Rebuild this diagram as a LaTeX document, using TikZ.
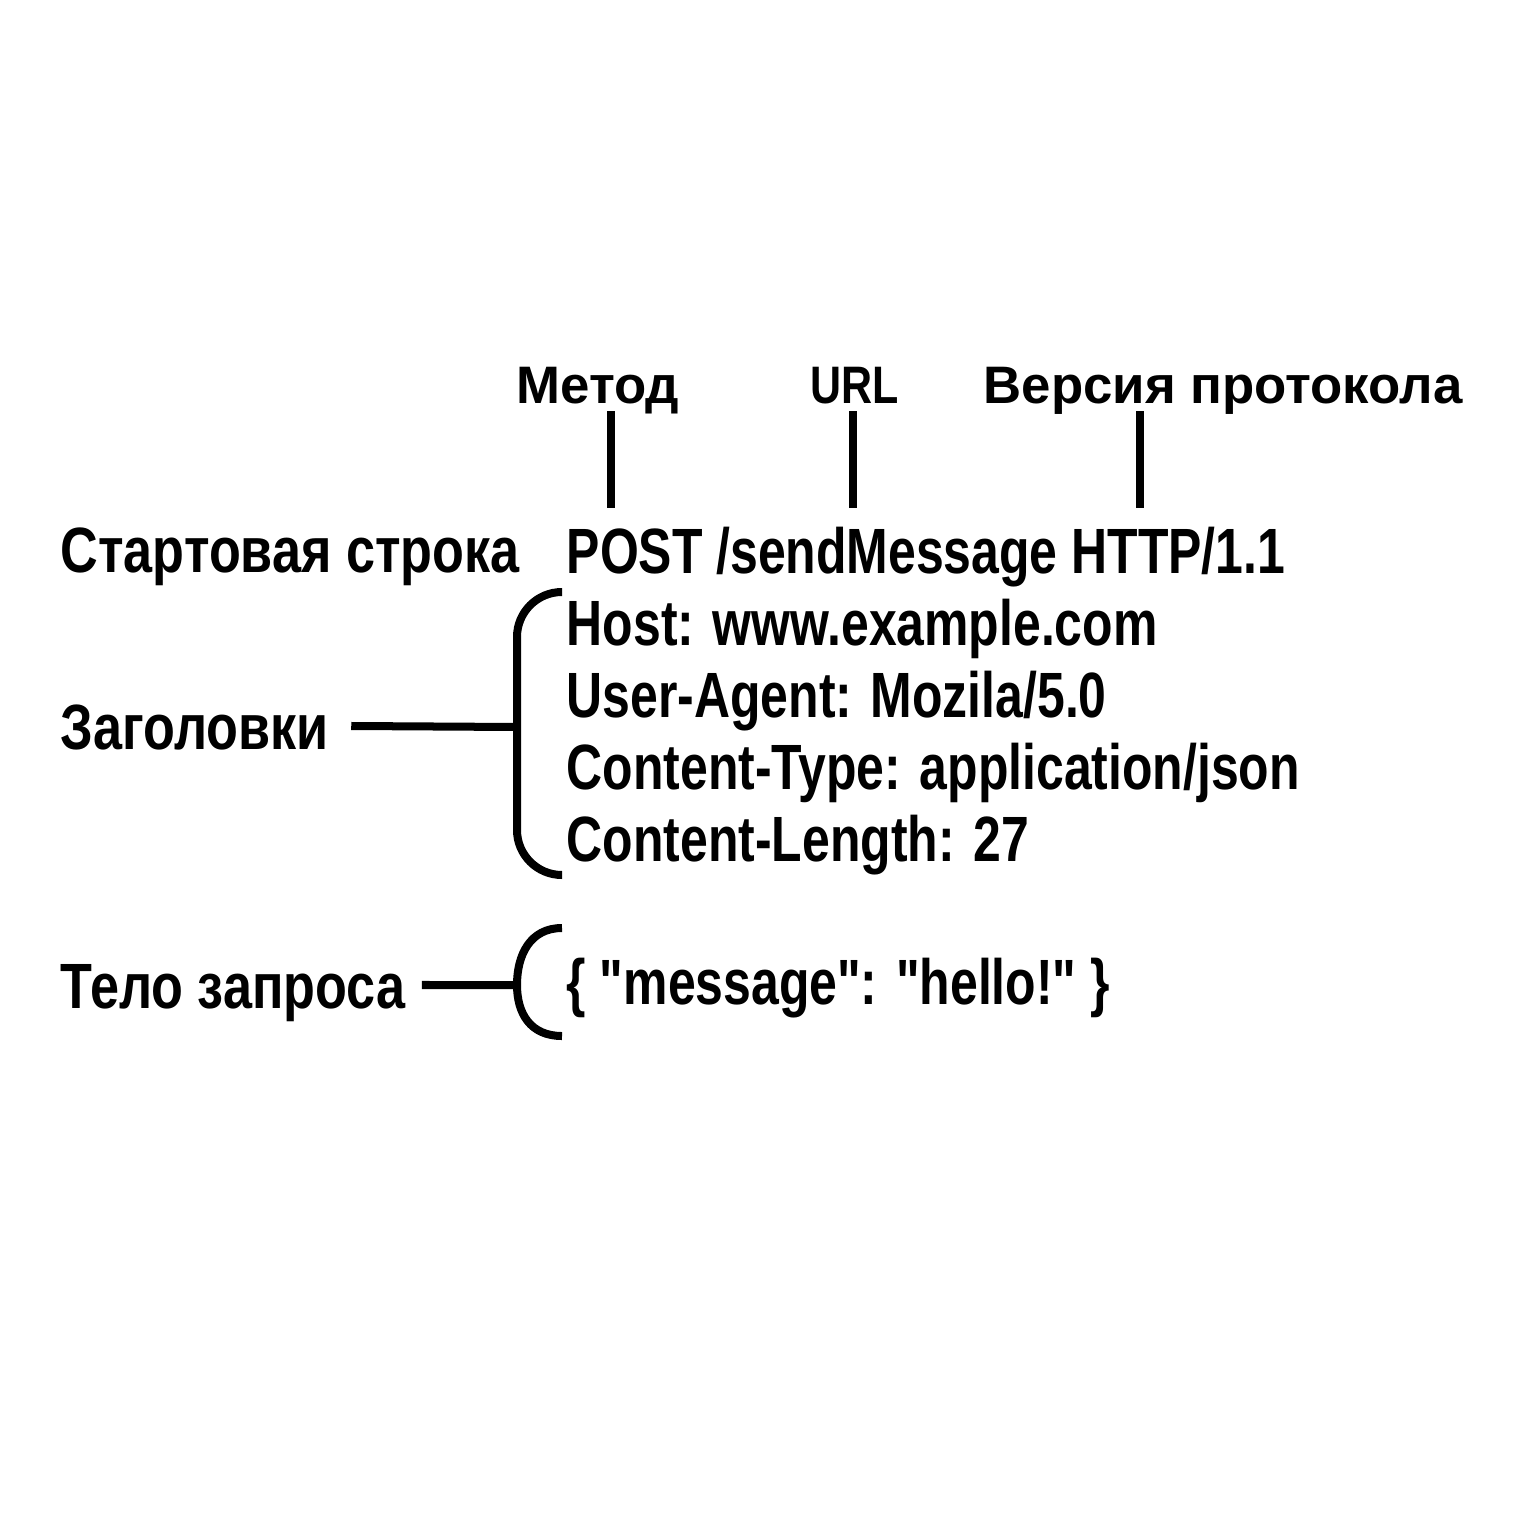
\documentclass[tikz,border=0pt]{standalone}
\usepackage{fontspec}
\newfontfamily\narrowfont{Liberation Sans}[FakeStretch=0.78]
\newfontfamily\labelfont{Liberation Sans}[FakeStretch=0.815]
\newfontfamily\headfont{Liberation Sans}
\tikzset{
  txt/.style={font=\narrowfont\bfseries\fontsize{18.2pt}{20pt}\selectfont, inner sep=0pt, text height=0.46cm, text depth=0pt, anchor=base west},
  side/.style={txt, font=\labelfont\bfseries\fontsize{18.2pt}{20pt}\selectfont},
  head/.style={font=\headfont\bfseries\fontsize{15pt}{17pt}\selectfont, inner sep=0pt, text height=0.38cm, text depth=0pt, anchor=base west},
  wire/.style={line width=0.08cm}
}
\begin{document}
\begin{tikzpicture}[x=0.01cm, y=-0.01cm]
  \useasboundingbox[fill=white] (0,0) rectangle (1536,1536);

  % parts of the start line
  \node[head] (method) at (516,403) {Метод};
  \node[head, font=\labelfont\bfseries\fontsize{15pt}{17pt}\selectfont] (url) at (810,403) {URL};
  \node[head] (version) at (983,403) {Версия протокола};
  \coordinate (mtop) at (611,411);  \coordinate (mbot) at (611,508);
  \coordinate (utop) at (853,411);  \coordinate (ubot) at (853,508);
  \coordinate (vtop) at (1140,411); \coordinate (vbot) at (1140,508);
  \draw[wire] (mtop) -- (mbot);
  \draw[wire] (utop) -- (ubot);
  \draw[wire] (vtop) -- (vbot);

  % request lines
  \node[txt] (start) at (566,573) {POST /sendMessage HTTP/1.1};
  \node[txt] (host) at (566,645) {Host: www.example.com};
  \node[txt] (agent) at (566,717) {User-Agent: Mozila/5.0};
  \node[txt] (ctype) at (566,789) {Content-Type: application/json};
  \node[txt] (clen) at (566,861) {Content-Length: 27};
  \node[txt] (body) at (566,1004) {\{ "message": "hello!" \}};

  % left labels
  \node[side] (startlbl) at (60,572) {Стартовая строка};
  \node[side] (hdlbl) at (60,749) {Заголовки};
  \node[side] (bodylbl) at (60,1008) {Тело запроса};

  % brackets
  \coordinate (hdtop) at (562,592);
  \coordinate (hdbot) at (562,875);
  \coordinate (hdbrace) at (517,727);
  \draw[wire, rounded corners=0.45cm] (hdtop) -| (hdbrace |- hdbot) -- (hdbot);
  \draw[wire] (hdlbl.east) ++(22,0) -- (hdbrace);

  \coordinate (bdtop) at (562,928);
  \coordinate (bdbot) at (562,1036);
  \coordinate (bdbrace) at (517,985);
  \draw[wire] (bdtop) .. controls (530,928) and (517,955) .. (bdbrace)
              .. controls (517,1013) and (530,1036) .. (bdbot);
  \draw[wire] (bodylbl.east) ++(16,0) -- (bdbrace);
\end{tikzpicture}
\end{document}
